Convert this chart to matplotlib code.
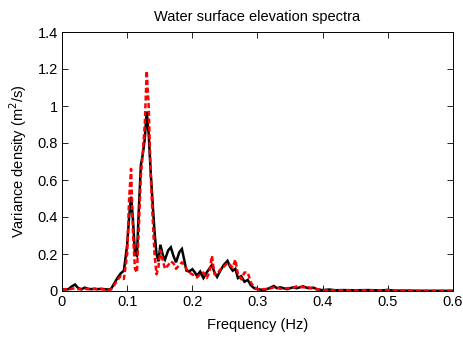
import matplotlib
matplotlib.use("Agg")
import matplotlib.pyplot as plt

freq = [0, .005, .01, .015, .02, .025, .03, .035, .04, .045, .05, .055, .06, .065, .07, .075, .08, .085, .09, .095,
        .1, .103, .106, .109, .112, .115, .118, .121, .124, .127,
        .13, .133, .136, .139, .142, .145, .148, .151, .155, .158,
        .163, .167, .171, .175, .18, .184, .188, .191, .195, .2,
        .204, .207, .212, .217, .222, .226, .23, .234, .238, .243,
        .248, .254, .258, .262, .266, .27, .275, .28, .285, .29,
        .295, .3, .31, .318, .325, .33, .335, .345, .355, .36,
        .37, .378, .386, .392, .4, .41, .42, .43, .45, .47,
        .49, .5, .51, .53, .55, .58, .6]

measured = [.01, .008, .01, .025, .035, .015, .01, .018, .012, .01, .012, .01, .012, .01, .008, .01, .04, .07, .095, .11,
            .25, .4, .51, .38, .2, .19, .45, .68, .74, .82,
            .97, .85, .65, .48, .32, .2, .16, .25, .19, .17,
            .22, .236, .19, .155, .21, .227, .16, .11, .105, .118,
            .1, .082, .105, .07, .1, .12, .14, .1, .076, .11,
            .14, .163, .13, .11, .12, .07, .08, .05, .06, .03,
            .015, .01, .005, .015, .027, .015, .02, .01, .02, .015,
            .025, .015, .018, .008, .005, .008, .004, .005, .004, .005,
            .003, .006, .002, .002, .001, .001, .001]

modelled = [.005, .01, .008, .012, .015, .01, .008, .012, .01, .01, .012, .008, .01, .008, .005, .008, .03, .06, .08, .065,
            .2, .5, .66, .3, .12, .1, .35, .62, .75, .9,
            1.19, 1.0, .64, .4, .2, .09, .13, .22, .16, .12,
            .14, .16, .15, .12, .14, .155, .14, .12, .1, .09,
            .08, .073, .09, .1, .07, .1, .19, .09, .09, .117,
            .13, .152, .14, .127, .17, .09, .063, .1, .1, .045,
            .02, .01, .01, .012, .02, .018, .012, .015, .018, .025,
            .02, .02, .012, .01, .003, .005, .003, .004, .003, .004,
            .002, .004, .002, .002, .001, .001, .001]

xticks = [0, 0.1, 0.2, 0.3, 0.4, 0.5, 0.6]
xticklabels = ["0", "0.1", "0.2", "0.3", "0.4", "0.5", "0.6"]
yticks = [0, 0.2, 0.4, 0.6, 0.8, 1.0, 1.2, 1.4]
yticklabels = ["0", "0.2", "0.4", "0.6", "0.8", "1", "1.2", "1.4"]

plt.rcParams['font.family'] = ['Liberation Sans', 'DejaVu Sans']

fig = plt.figure(figsize=(4.64, 3.38), dpi=100)
ax = fig.add_axes([62/464, (338-291)/338, 391/464, 259/338])

ax.plot(freq, measured, color='black', lw=1.8, solid_joinstyle='miter')
ax.plot(freq, modelled, color='#ff0000', lw=1.8, ls=(0, (2.0, 1.1)))

ax.set_xlim(0, 0.6)
ax.set_ylim(0, 1.4)
ax.set_xticks(xticks)
ax.set_xticklabels(xticklabels)
ax.set_yticks(yticks)
ax.set_yticklabels(yticklabels)
ax.tick_params(direction='in', top=True, right=True, labelsize=10.5, length=4, width=0.6, pad=3)
for s in ax.spines.values():
    s.set_linewidth(0.7)

ax.set_title("Water surface elevation spectra", fontsize=10.5, pad=8)
ax.set_xlabel("Frequency (Hz)", fontsize=10.5, labelpad=6)
ax.set_ylabel("Variance density (m$^2$/s)", fontsize=10.5, labelpad=6)

fig.savefig("out.png", dpi=100)
